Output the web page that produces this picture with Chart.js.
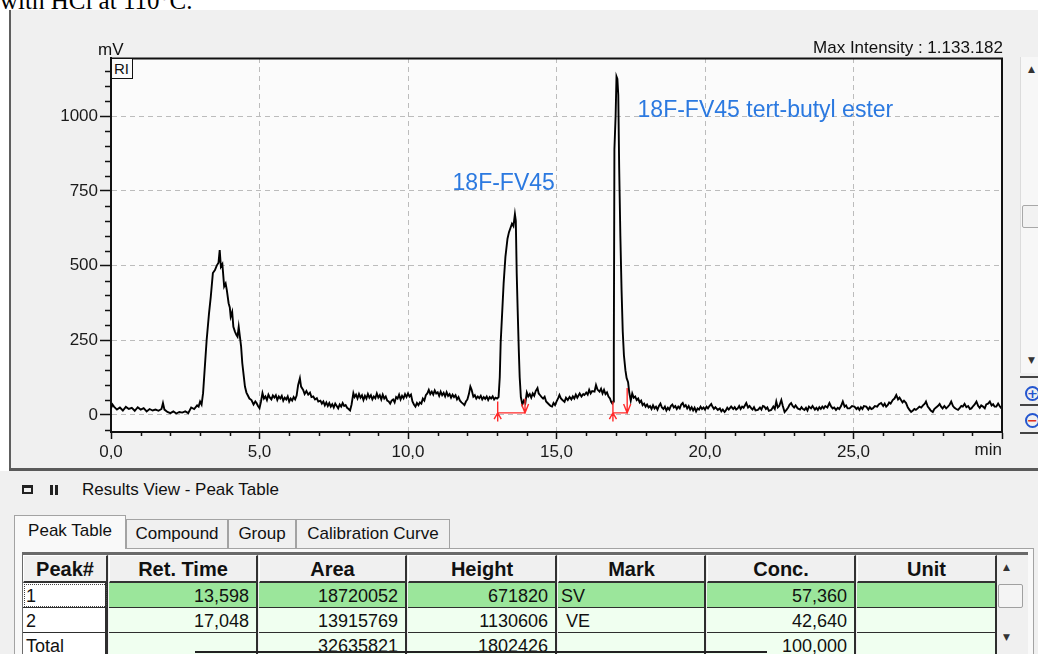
<!DOCTYPE html>
<html><head><meta charset="utf-8">
<script src="https://cdn.jsdelivr.net/npm/chart.js@4.4.1/dist/chart.umd.min.js"></script>
<style>
html,body{margin:0;padding:0;}
body{width:1038px;height:654px;position:relative;overflow:hidden;background:#fff;font-family:"Liberation Sans",Arial,sans-serif;color:#111;}
.a{position:absolute;white-space:pre;}
#caption{left:0;top:-12px;font:25px/25px "Liberation Serif","Times New Roman",serif;color:#000;}
#chartPanel{left:9px;top:10px;width:1029px;height:458px;background:#f0f0f0;border-left:2px solid #5e5e5e;box-sizing:border-box;}
#sep{left:9px;top:468px;width:1029px;height:3px;background:#5a5a5a;}
#results{left:0;top:471px;width:1038px;height:183px;background:#f0f0f0;}
#chart{position:absolute;left:0;top:0;}
.t17{font-size:17px;line-height:17px;}
.tab{box-sizing:border-box;border:1px solid #a3a3a3;border-bottom:none;background:#f0f0f0;font-size:17px;line-height:28px;text-align:center;}
.cell{position:absolute;box-sizing:border-box;overflow:hidden;white-space:pre;}
.circ{box-sizing:border-box;width:15px;height:15px;border:2px solid #2456cf;border-radius:50%;text-align:center;font:bold 13px/11px "DejaVu Sans",sans-serif;}
</style></head>
<body>
<div id="caption" class="a">with HCl at 110°C.</div>
<div id="chartPanel" class="a"></div>
<div id="sep" class="a"></div>
<div id="results" class="a"></div>

<!-- chart side scrollbar -->
<div class="a" style="left:1020px;top:57px;width:18px;height:316px;background:#f7f7f7;border-left:1px solid #dcdcdc;"></div>
<div class="a" style="left:1028px;top:64px;font:9px/10px 'DejaVu Sans';color:#333;">▲</div>
<div class="a" style="left:1022px;top:205px;width:20px;height:23px;background:#f2f2f2;border:1px solid #a8a8a8;border-radius:2px;box-sizing:border-box;"></div>
<div class="a" style="left:1028px;top:355px;font:9px/10px 'DejaVu Sans';color:#333;">▼</div>
<div class="a" style="left:1020px;top:376px;width:18px;height:2px;background:#444;"></div>
<div class="a circ" style="left:1025px;top:386px;color:#2456cf;">+</div>
<div class="a" style="left:1020px;top:404px;width:18px;height:2px;background:#444;"></div>
<div class="a circ" style="left:1025px;top:413px;color:#e03020;">−</div>
<div class="a" style="left:1020px;top:432px;width:18px;height:2px;background:#444;"></div>

<canvas id="chart" width="1020" height="468"></canvas>

<div class="a t17" style="left:98px;top:41px;">mV</div>
<div class="a t17" style="right:35px;top:39px;">Max Intensity : 1.133.182</div>
<div class="a" style="left:111px;top:58px;width:22px;height:21px;border:1px solid #111;box-sizing:border-box;font-size:15px;line-height:19px;padding-left:2px;background:#fbfbfb;">RI</div>

<!-- results header -->
<div class="a" style="left:22px;top:485px;width:11px;height:9px;border:2px solid #222;border-top-width:3px;box-sizing:border-box;"></div>
<div class="a" style="left:50px;top:485px;width:3px;height:10px;background:#222;"></div>
<div class="a" style="left:55px;top:485px;width:3px;height:10px;background:#222;"></div>
<div class="a t17" style="left:82px;top:481px;">Results View - Peak Table</div>

<!-- tabs -->
<div class="a" style="left:14px;top:548px;width:1020px;height:110px;background:#f9f9f9;border:1px solid #a3a3a3;box-sizing:border-box;"></div>
<div class="a tab" style="left:14px;top:515px;width:112px;height:34px;background:#f9f9f9;line-height:30px;">Peak Table</div>
<div class="a tab" style="left:126px;top:519px;width:102px;height:29px;">Compound</div>
<div class="a tab" style="left:228px;top:519px;width:68px;height:29px;">Group</div>
<div class="a tab" style="left:296px;top:519px;width:154px;height:29px;">Calibration Curve</div>

<div id="tbl"></div>
<div class="a" style="left:195px;top:651px;width:572px;height:2px;background:#222;"></div>

<script>
// ---------- chromatogram data: [retention time (min), intensity (mV)] ----------
const baselineEarly = [[0.0,22],[0.05,35],[0.1,28],[0.2,18],[0.3,25],[0.4,15],[0.5,27],[0.6,20],[0.7,24],[0.8,14],[0.9,26],[1.0,18],[1.1,23],[1.2,12],[1.3,20],[1.4,15],[1.5,18],[1.6,14],[1.7,20],[1.75,40],[1.8,18],[1.9,10],[2.0,6],[2.1,12],[2.2,5],[2.3,10],[2.4,8],[2.5,12],[2.6,6],[2.7,25],[2.8,20],[2.9,32],[2.95,28],[3.0,45],[3.05,35]];
const peakOne = [[3.1,73],[3.16,162],[3.22,250],[3.3,340],[3.36,396],[3.43,475],[3.5,485],[3.56,500],[3.62,510],[3.66,552],[3.7,496],[3.75,505],[3.81,430],[3.86,440],[3.9,418],[3.96,374],[4.0,360],[4.03,329],[4.08,345],[4.12,295],[4.17,280],[4.22,268],[4.26,262],[4.3,295],[4.34,262],[4.38,230],[4.42,174],[4.47,130],[4.51,95],[4.56,75],[4.6,67],[4.66,55],[4.73,50],[4.8,35],[4.86,45],[4.9,40],[4.95,30],[5.0,23],[5.05,45],[5.1,73]];
const midBaseline = [[5.15,55],[5.2,62],[5.25,50],[5.3,68],[5.35,58],[5.4,52],[5.45,65],[5.5,58],[5.55,66],[5.6,50],[5.65,62],[5.7,55],[5.75,64],[5.8,48],[5.85,58],[5.9,52],[5.95,62],[6.0,45],[6.05,55],[6.1,48],[6.15,60],[6.2,52],[6.25,65],[6.3,100],[6.36,123],[6.4,95],[6.47,84],[6.52,70],[6.58,80],[6.64,68],[6.7,75],[6.75,60],[6.81,62],[6.87,52],[6.93,56],[6.98,45],[7.05,48],[7.1,38],[7.15,45],[7.2,32],[7.25,42],[7.3,30],[7.35,40],[7.4,28],[7.45,36],[7.5,25],[7.55,38],[7.6,30],[7.65,22],[7.7,35],[7.75,28],[7.8,40],[7.85,30],[7.9,33],[7.95,24],[8.0,20],[8.05,15],[8.1,35],[8.16,73],[8.2,60],[8.25,68],[8.3,55],[8.35,70],[8.4,58],[8.45,66],[8.5,50],[8.55,64],[8.6,55],[8.65,70],[8.7,58],[8.75,66],[8.8,52],[8.85,62],[8.9,56],[8.95,72],[9.0,58],[9.05,66],[9.1,52],[9.15,68],[9.2,55],[9.25,62],[9.3,48],[9.35,45],[9.4,38],[9.45,48],[9.5,52],[9.55,42],[9.6,60],[9.65,55],[9.7,68],[9.75,52],[9.8,64],[9.85,56],[9.9,70],[9.95,60],[10.0,72],[10.05,62],[10.1,68],[10.15,45],[10.2,35],[10.25,28],[10.3,40],[10.35,33],[10.4,42],[10.45,38],[10.5,55],[10.55,48],[10.6,66],[10.65,72],[10.7,84],[10.75,70],[10.8,78],[10.85,68],[10.9,82],[10.95,72],[11.0,76],[11.05,64],[11.1,78],[11.15,66],[11.2,74],[11.25,62],[11.3,76],[11.35,64],[11.4,70],[11.45,58],[11.5,68],[11.55,60],[11.6,66],[11.65,52],[11.7,60],[11.75,48],[11.8,42],[11.85,38],[11.9,33],[11.95,45],[12.0,52],[12.05,70],[12.1,95],[12.14,85],[12.2,61],[12.25,66],[12.3,55],[12.35,62],[12.4,56],[12.45,64],[12.5,52],[12.55,60],[12.6,54],[12.65,62],[12.7,50],[12.75,60],[12.8,55],[12.85,62],[12.9,52],[12.95,58],[13.0,55]];
const peakTwo = [[13.05,60],[13.09,127],[13.12,241],[13.17,341],[13.22,441],[13.28,529],[13.35,590],[13.4,612],[13.45,626],[13.5,640],[13.55,632],[13.6,672],[13.63,650],[13.66,475],[13.69,361],[13.73,218],[13.76,127],[13.8,60],[13.85,35],[13.9,48],[13.95,40],[14.0,75]];
const preBaseline = [[14.05,62],[14.1,70],[14.15,58],[14.2,72],[14.25,64],[14.3,80],[14.36,90],[14.4,72],[14.45,66],[14.5,60],[14.55,55],[14.6,61],[14.65,45],[14.7,40],[14.75,35],[14.8,30],[14.85,28],[14.9,40],[14.95,33],[15.0,45],[15.06,57],[15.1,67],[15.15,55],[15.2,50],[15.27,44],[15.32,58],[15.38,50],[15.44,60],[15.5,52],[15.55,62],[15.6,55],[15.65,68],[15.7,58],[15.78,72],[15.84,62],[15.9,70],[15.94,67],[16.0,75],[16.05,68],[16.1,84],[16.15,72],[16.2,80],[16.28,78],[16.33,100],[16.38,85],[16.45,78],[16.5,88],[16.55,72],[16.6,84],[16.65,70],[16.7,76],[16.75,62],[16.8,55],[16.84,44],[16.88,38]];
const peakThree = [[16.91,45],[16.93,212],[16.95,890],[16.99,1000],[17.02,1133],[17.05,1125],[17.08,1071],[17.11,830],[17.15,600],[17.19,420],[17.23,280],[17.27,200],[17.32,150],[17.36,124],[17.41,110],[17.45,75],[17.5,48],[17.55,72],[17.6,58],[17.65,62],[17.7,50],[17.75,55],[17.8,42],[17.85,48],[17.9,33],[17.95,38],[18.0,28]];
const lateBaseline = [[18.05,35],[18.1,25],[18.15,30],[18.2,20],[18.25,32],[18.3,22],[18.35,28],[18.4,18],[18.45,30],[18.5,38],[18.55,25],[18.6,20],[18.65,28],[18.7,15],[18.75,24],[18.8,18],[18.85,30],[18.9,35],[18.95,25],[19.0,30],[19.05,20],[19.1,28],[19.15,22],[19.2,35],[19.25,40],[19.3,28],[19.35,33],[19.4,22],[19.45,30],[19.5,18],[19.55,26],[19.6,15],[19.65,24],[19.7,12],[19.75,22],[19.8,18],[19.85,28],[19.9,20],[19.95,25],[20.0,18],[20.05,28],[20.1,22],[20.15,30],[20.21,37],[20.25,28],[20.3,20],[20.35,26],[20.43,17],[20.5,22],[20.55,12],[20.6,18],[20.66,10],[20.7,15],[20.75,24],[20.8,18],[20.88,28],[20.95,20],[21.0,26],[21.05,18],[21.1,22],[21.15,30],[21.2,20],[21.25,28],[21.3,24],[21.39,40],[21.45,25],[21.5,30],[21.56,22],[21.6,18],[21.65,26],[21.7,15],[21.78,17],[21.85,25],[21.9,18],[21.95,30],[22.0,28],[22.05,20],[22.1,25],[22.15,14],[22.23,17],[22.3,28],[22.35,20],[22.4,45],[22.45,25],[22.5,30],[22.57,50],[22.62,30],[22.68,10],[22.75,18],[22.8,25],[22.85,35],[22.9,40],[22.95,30],[23.0,25],[23.05,32],[23.12,22],[23.2,18],[23.25,26],[23.3,20],[23.35,17],[23.4,24],[23.45,15],[23.5,28],[23.57,22],[23.62,30],[23.7,18],[23.75,24],[23.8,17],[23.85,26],[23.9,20],[23.95,28],[24.0,22],[24.05,30],[24.12,25],[24.19,40],[24.25,28],[24.3,22],[24.35,25],[24.41,17],[24.47,24],[24.52,20],[24.58,30],[24.64,45],[24.7,28],[24.75,32],[24.8,22],[24.87,22],[24.95,30],[25.03,28],[25.1,20],[25.15,25],[25.2,17],[25.25,26],[25.3,20],[25.35,30],[25.43,28],[25.5,18],[25.55,26],[25.6,20],[25.65,22],[25.72,30],[25.8,28],[25.85,35],[25.93,40],[26.0,30],[26.05,38],[26.1,28],[26.15,33],[26.2,42],[26.25,38],[26.32,50],[26.38,55],[26.44,67],[26.5,52],[26.55,58],[26.6,50],[26.65,42],[26.7,48],[26.77,40],[26.83,25],[26.88,18],[26.94,10],[27.0,15],[27.05,20],[27.1,17],[27.16,22],[27.22,28],[27.28,25],[27.34,32],[27.4,38],[27.44,45],[27.5,28],[27.55,22],[27.6,15],[27.67,10],[27.72,20],[27.78,25],[27.84,30],[27.9,37],[27.95,28],[28.0,22],[28.06,30],[28.12,22],[28.18,28],[28.24,35],[28.29,45],[28.35,30],[28.4,24],[28.46,20],[28.52,17],[28.58,24],[28.63,30],[28.68,28],[28.74,37],[28.8,26],[28.86,30],[28.92,20],[28.97,22],[29.03,30],[29.08,35],[29.14,45],[29.2,30],[29.25,24],[29.3,32],[29.36,28],[29.42,22],[29.47,35],[29.53,38],[29.59,45],[29.65,32],[29.7,36],[29.75,28],[29.81,28],[29.87,38],[29.92,30],[29.98,22]];

// integration marks: peak start / end times and baseline level (mV)
const peakStarts = [13.02, 16.90];
const peakEnds = [13.94, 17.38];
const peakBaseLevel = [7, 7];
const peakEndMarkTop = [55, 90];

// peak annotations
const peakNames = ['18F-FV45', '18F-FV45 tert-butyl ester'];
const peakNameTimes = [11.5, 17.73];
const peakNameLevels = [753, 997];

// axes
const xMajorTicks = [0, 5, 10, 15, 20, 25, 30];
const xMinorTicks = [1,2,3,4,6,7,8,9,11,12,13,14,16,17,18,19,21,22,23,24,26,27,28,29];
const yMajorTicks = [0, 250, 500, 750, 1000];
const yMinorTicks = [-50,50,100,150,200,300,350,400,450,550,600,650,700,800,850,900,950,1050,1100,1150];

// peak table
const tableHeaders = ['Peak#','Ret. Time','Area','Height','Mark','Conc.','Unit'];
const peakNumbers = ['1','2','Total'];
const retTimes = ['13,598','17,048',''];
const areas = ['18720052','13915769','32635821'];
const heights = ['671820','1130606','1802426'];
const marks = ['SV',' VE',''];
const concs = ['57,360','42,640','100,000'];

// ---------- build chart ----------
const trace = [].concat(baselineEarly, peakOne, midBaseline, peakTwo, preBaseline, peakThree, lateBaseline).map(p => ({x: p[0], y: p[1]}));
const marksPts = [];
peakStarts.forEach((s, i) => {
  const e = peakEnds[i], b = peakBaseLevel[i];
  marksPts.push({x:s,y:b},{x:e,y:b},{x:e,y:null});
  marksPts.push({x:s,y:45},{x:s,y:-22},{x:s,y:null});
  marksPts.push({x:s-0.12,y:-14},{x:s,y:b},{x:s+0.12,y:-14},{x:s+0.12,y:null});
  marksPts.push({x:e,y:b},{x:e,y:peakEndMarkTop[i]},{x:e,y:null});
  marksPts.push({x:e-0.12,y:b+30},{x:e,y:b},{x:e+0.12,y:b+30},{x:e+0.12,y:null});
});

const FONT = '"Liberation Sans", Arial, sans-serif';
Chart.defaults.font.family = FONT;

const deco = {
  id: 'deco',
  beforeDraw(chart) {
    const {ctx, chartArea: a} = chart;
    ctx.save();
    ctx.fillStyle = '#fbfbfb';
    ctx.fillRect(a.left, a.top, a.right - a.left, a.bottom - a.top);
    ctx.restore();
  },
  afterDatasetsDraw(chart) {
    const {ctx, scales: {x, y}} = chart;
    ctx.save();
    ctx.fillStyle = '#2b79e0';
    ctx.font = '23px ' + FONT;
    ctx.textAlign = 'left';
    ctx.textBaseline = 'alphabetic';
    peakNames.forEach((n, i) => ctx.fillText(n, x.getPixelForValue(peakNameTimes[i]), y.getPixelForValue(peakNameLevels[i])));
    ctx.restore();
  },
  afterDraw(chart) {
    const {ctx, chartArea: a, scales: {x, y}} = chart;
    ctx.save();
    ctx.strokeStyle = '#111';
    ctx.lineWidth = 1.5;
    yMinorTicks.forEach(v => {
      const py = Math.round(y.getPixelForValue(v)) + 0.5;
      ctx.beginPath(); ctx.moveTo(a.left - 6, py); ctx.lineTo(a.left, py); ctx.stroke();
    });
    xMinorTicks.forEach(v => {
      const px = Math.round(x.getPixelForValue(v)) + 0.5;
      ctx.beginPath(); ctx.moveTo(px, a.bottom); ctx.lineTo(px, a.bottom + 4); ctx.stroke();
    });
    ctx.lineWidth = 2;
    ctx.beginPath();
    ctx.moveTo(a.left, a.top + 0.5); ctx.lineTo(a.right, a.top + 0.5); ctx.lineTo(a.right, a.bottom);
    ctx.stroke();
    ctx.fillStyle = '#1a1a1a';
    ctx.font = '17px ' + FONT;
    ctx.textAlign = 'right';
    ctx.textBaseline = 'top';
    ctx.fillText('min', x.getPixelForValue(30), a.bottom + 10);
    ctx.restore();
  }
};

new Chart(document.getElementById('chart'), {
  type: 'line',
  data: { datasets: [
    { data: marksPts, borderColor: '#ff2a2a', borderWidth: 1.4, pointRadius: 0, spanGaps: false, tension: 0, order: 0 },
    { data: trace, borderColor: '#000', borderWidth: 1.9, pointRadius: 0, tension: 0, fill: false, order: 1 }
  ]},
  options: {
    responsive: false, animation: false, events: [],
    layout: { padding: { top: 58, right: 18, left: 0, bottom: 0 } },
    plugins: { legend: { display: false }, tooltip: { enabled: false } },
    scales: {
      x: {
        type: 'linear', min: 0, max: 30,
        afterBuildTicks: s => { s.ticks = xMajorTicks.map(v => ({value: v})); },
        afterFit: s => { s.height = 36; },
        ticks: { autoSkip: false, maxRotation: 0, padding: 3, color: '#1a1a1a', font: { size: 17 },
          callback: v => v === 30 ? '' : v.toFixed(1).replace('.', ',') },
        grid: { color: c => (c.tick && c.tick.value > 0 && c.tick.value < 30) ? '#bcbcbc' : 'rgba(0,0,0,0)',
          tickColor: '#111', tickLength: 7, lineWidth: 1, tickWidth: 1.5 },
        border: { color: '#111', width: 2, dash: [5, 4] }
      },
      y: {
        type: 'linear', min: -57, max: 1195,
        afterBuildTicks: s => { s.ticks = yMajorTicks.map(v => ({value: v})); },
        afterFit: s => { s.width = 111; },
        ticks: { padding: 2, color: '#1a1a1a', font: { size: 17 }, callback: v => String(v) },
        grid: { color: '#bcbcbc', tickColor: '#111', tickLength: 11, lineWidth: 1, tickWidth: 1.5 },
        border: { color: '#111', width: 2, dash: [5, 4] }
      }
    }
  },
  plugins: [deco]
});

// ---------- build peak table ----------
const tbl = document.getElementById('tbl');
const colEdges = [22,108,258,407,557,706,856,997];
const colAlign = ['left','right','right','right','left','right','left'];
function cell(txt, l, t, w, h, style) {
  const d = document.createElement('div');
  d.className = 'cell';
  d.textContent = txt;
  d.style.cssText += `left:${l}px;top:${t}px;width:${w}px;height:${h}px;` + style;
  tbl.appendChild(d);
  return d;
}
cell('', 22, 552, 1006, 110, 'border-top:3px solid #6a6a6a;border-left:2px solid #6a6a6a;background:#f0f0f0;');
tableHeaders.forEach((h, i) => {
  cell(h, colEdges[i]+1, 555, colEdges[i+1]-colEdges[i]-1, 28,
    'font-weight:bold;font-size:20px;line-height:27px;text-align:center;background:#f0f0f0;border-top:1px solid #fff;border-left:1px solid #fff;border-right:2px solid #333;border-bottom:2px solid #333;');
});
const rowData = peakNumbers.map((p, i) => [p, retTimes[i], areas[i], heights[i], marks[i], concs[i], '']);
rowData.forEach((r, ri) => {
  const top = 583 + ri * 25;
  r.forEach((v, ci) => {
    let bg = ci === 0 ? '#ffffff' : (ri === 0 ? '#9be69b' : '#f0fff0');
    const bw = ci === 0 ? '3px' : '2px';
    const d = cell(v, colEdges[ci]+1, top, colEdges[ci+1]-colEdges[ci]-1, 25,
      `font-size:18px;line-height:25px;padding-top:1px;text-align:${colAlign[ci]};background:${bg};border-right:${bw} solid #2e2e2e;border-bottom:1px solid #2e2e2e;` +
      (colAlign[ci] === 'right' ? 'padding-right:7px;' : 'padding-left:3px;'));
    if (ri === 0 && ci === 0) d.style.outline = '1px dotted #444', d.style.outlineOffset = '-2px';
  });
});
// table scrollbar
cell('', 997, 555, 31, 100, 'background:#f0f0f0;');
cell('▲', 1003, 561, 12, 12, 'font:9px/12px "DejaVu Sans";color:#333;');
cell('', 998, 584, 25, 24, 'background:#f4f4f4;border:1px solid #a0a0a0;border-radius:2px;');
cell('▼', 1003, 631, 12, 12, 'font:9px/12px "DejaVu Sans";color:#333;');
</script>
</body></html>
